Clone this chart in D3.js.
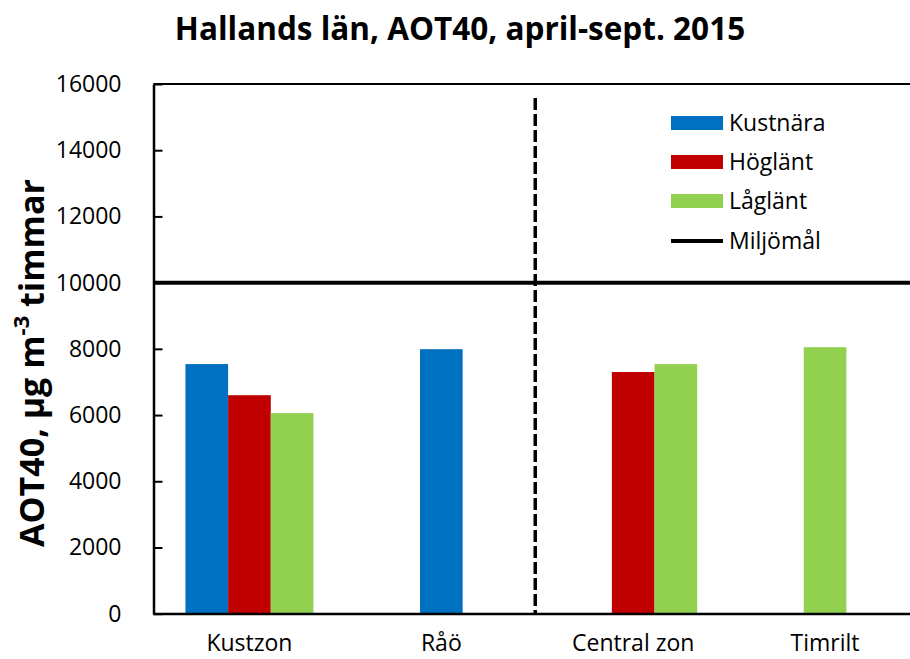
<!DOCTYPE html>
<html><head><meta charset="utf-8">
<script src="https://cdn.jsdelivr.net/npm/d3@7"></script>
<style>html,body{margin:0;padding:0;background:#fff;}svg{display:block;}</style>
</head><body>
<svg id="chart" width="910" height="659"></svg>
<script>
const title = "Hallands län, AOT40, april-sept. 2015";
const categories = ["Kustzon", "Råö", "Central zon", "Timrilt"];
const seriesNames = ["Kustnära", "Höglänt", "Låglänt"];
const seriesColors = ["#0070C0", "#C00000", "#92D050"];
const kustnara = [7540, 7990, null, null];
const hoglant = [6600, null, 7300, null];
const laglant = [6060, null, 7540, 8050];
// which series slots each category's group contains
const groupSlots = [["Kustnära","Höglänt","Låglänt"], ["Kustnära"], ["Kustnära","Höglänt","Låglänt"], ["Låglänt"]];
const yTicks = [0, 2000, 4000, 6000, 8000, 10000, 12000, 14000, 16000];
const goalName = "Miljömål";
const goalValue = 10000;

const svg = d3.select("#chart");
const W = 910, H = 659;
const m = {left: 153.5, top: 84, bottom: 614};
const plotRight = 921;

const x = d3.scaleBand().domain(categories).range([m.left, plotRight]).paddingInner(0.333).paddingOuter(0.1665);
const y = d3.scaleLinear().domain([0, 16000]).range([m.bottom - 0.3, m.top]);

const font = "'Open Sans', 'Noto Sans', sans-serif";
const seriesValues = [kustnara, hoglant, laglant];

// bars
categories.forEach((cat, ci) => {
  const slots = groupSlots[ci];
  const bw = x.bandwidth();
  const barW = bw / 3;
  const sub = d3.scaleBand().domain(slots).range([bw/2 - barW*slots.length/2, bw/2 + barW*slots.length/2]);
  seriesNames.forEach((s, si) => {
    const v = seriesValues[si][ci];
    if (v == null) return;
    svg.append("rect")
      .attr("x", x(cat) + sub(s))
      .attr("width", sub.bandwidth())
      .attr("y", y(v))
      .attr("height", y(0) - y(v))
      .attr("fill", seriesColors[si]);
  });
});

// top border
svg.append("line").attr("x1", m.left).attr("x2", W).attr("y1", y(16000)).attr("y2", y(16000))
  .attr("stroke", "#000").attr("stroke-width", 2);

// y axis
const yAxis = d3.axisLeft(y).tickValues(yTicks).tickSizeInner(-9).tickSizeOuter(0).tickPadding(32).tickFormat(d3.format("d"));
const yg = svg.append("g").attr("transform", `translate(${m.left},0)`).call(yAxis);
yg.select(".domain").attr("stroke", "#000").attr("stroke-width", 2.5);
yg.selectAll(".tick line").attr("stroke", "#000").attr("stroke-width", 2);
yg.selectAll(".tick text").attr("font-family", font).attr("font-size", 23).attr("fill", "#000");

// x axis
const xAxis = d3.axisBottom(x).tickSize(0).tickPadding(21);
const xg = svg.append("g").attr("transform", `translate(0,${m.bottom})`).call(xAxis);
xg.select(".domain").attr("stroke", "#000").attr("stroke-width", 2.5).attr("d", `M${m.left},0H${plotRight}`);
xg.selectAll(".tick text").attr("font-family", font).attr("font-size", 23).attr("fill", "#000");

// goal line
svg.append("line").attr("x1", m.left).attr("x2", W).attr("y1", y(goalValue)).attr("y2", y(goalValue))
  .attr("stroke", "#000").attr("stroke-width", 4);

// dashed separator between Råö and Central zon
const sepX = (x("Råö") + x.bandwidth() + x("Central zon")) / 2 - 2;
svg.append("line").attr("x1", sepX).attr("x2", sepX).attr("y1", 98).attr("y2", m.bottom)
  .attr("stroke", "#000").attr("stroke-width", 3.5).attr("stroke-dasharray", "12,4");

// title
svg.append("text").attr("x", 460).attr("y", 40).attr("text-anchor", "middle")
  .attr("font-family", font).attr("font-weight", "bold").attr("font-size", 31.5).attr("fill", "#000")
  .text(title);

// y title
const yt = svg.append("text").attr("transform", `translate(44,${(m.top + m.bottom)/2 + 14}) rotate(-90)`)
  .attr("text-anchor", "middle").attr("font-family", font).attr("font-weight", "bold").attr("font-size", 34).attr("fill", "#000");
yt.append("tspan").text("AOT40, µg m");
yt.append("tspan").attr("baseline-shift", "super").attr("font-size", 22).text("-3");
yt.append("tspan").text(" timmar");

// legend
const legend = svg.append("g").attr("transform", "translate(671,0)");
const rowY = [123, 162, 201, 241];
seriesNames.forEach((s, i) => {
  legend.append("rect").attr("x", 0).attr("y", rowY[i] - 7).attr("width", 52).attr("height", 14).attr("fill", seriesColors[i]);
  legend.append("text").attr("x", 58).attr("y", rowY[i]).attr("dy", "0.35em")
    .attr("font-family", font).attr("font-size", 23).attr("fill", "#000").text(s);
});
legend.append("line").attr("x1", 0).attr("x2", 52).attr("y1", rowY[3]).attr("y2", rowY[3]).attr("stroke", "#000").attr("stroke-width", 4);
legend.append("text").attr("x", 58).attr("y", rowY[3]).attr("dy", "0.35em")
  .attr("font-family", font).attr("font-size", 23).attr("fill", "#000").text(goalName);
</script>
</body></html>
